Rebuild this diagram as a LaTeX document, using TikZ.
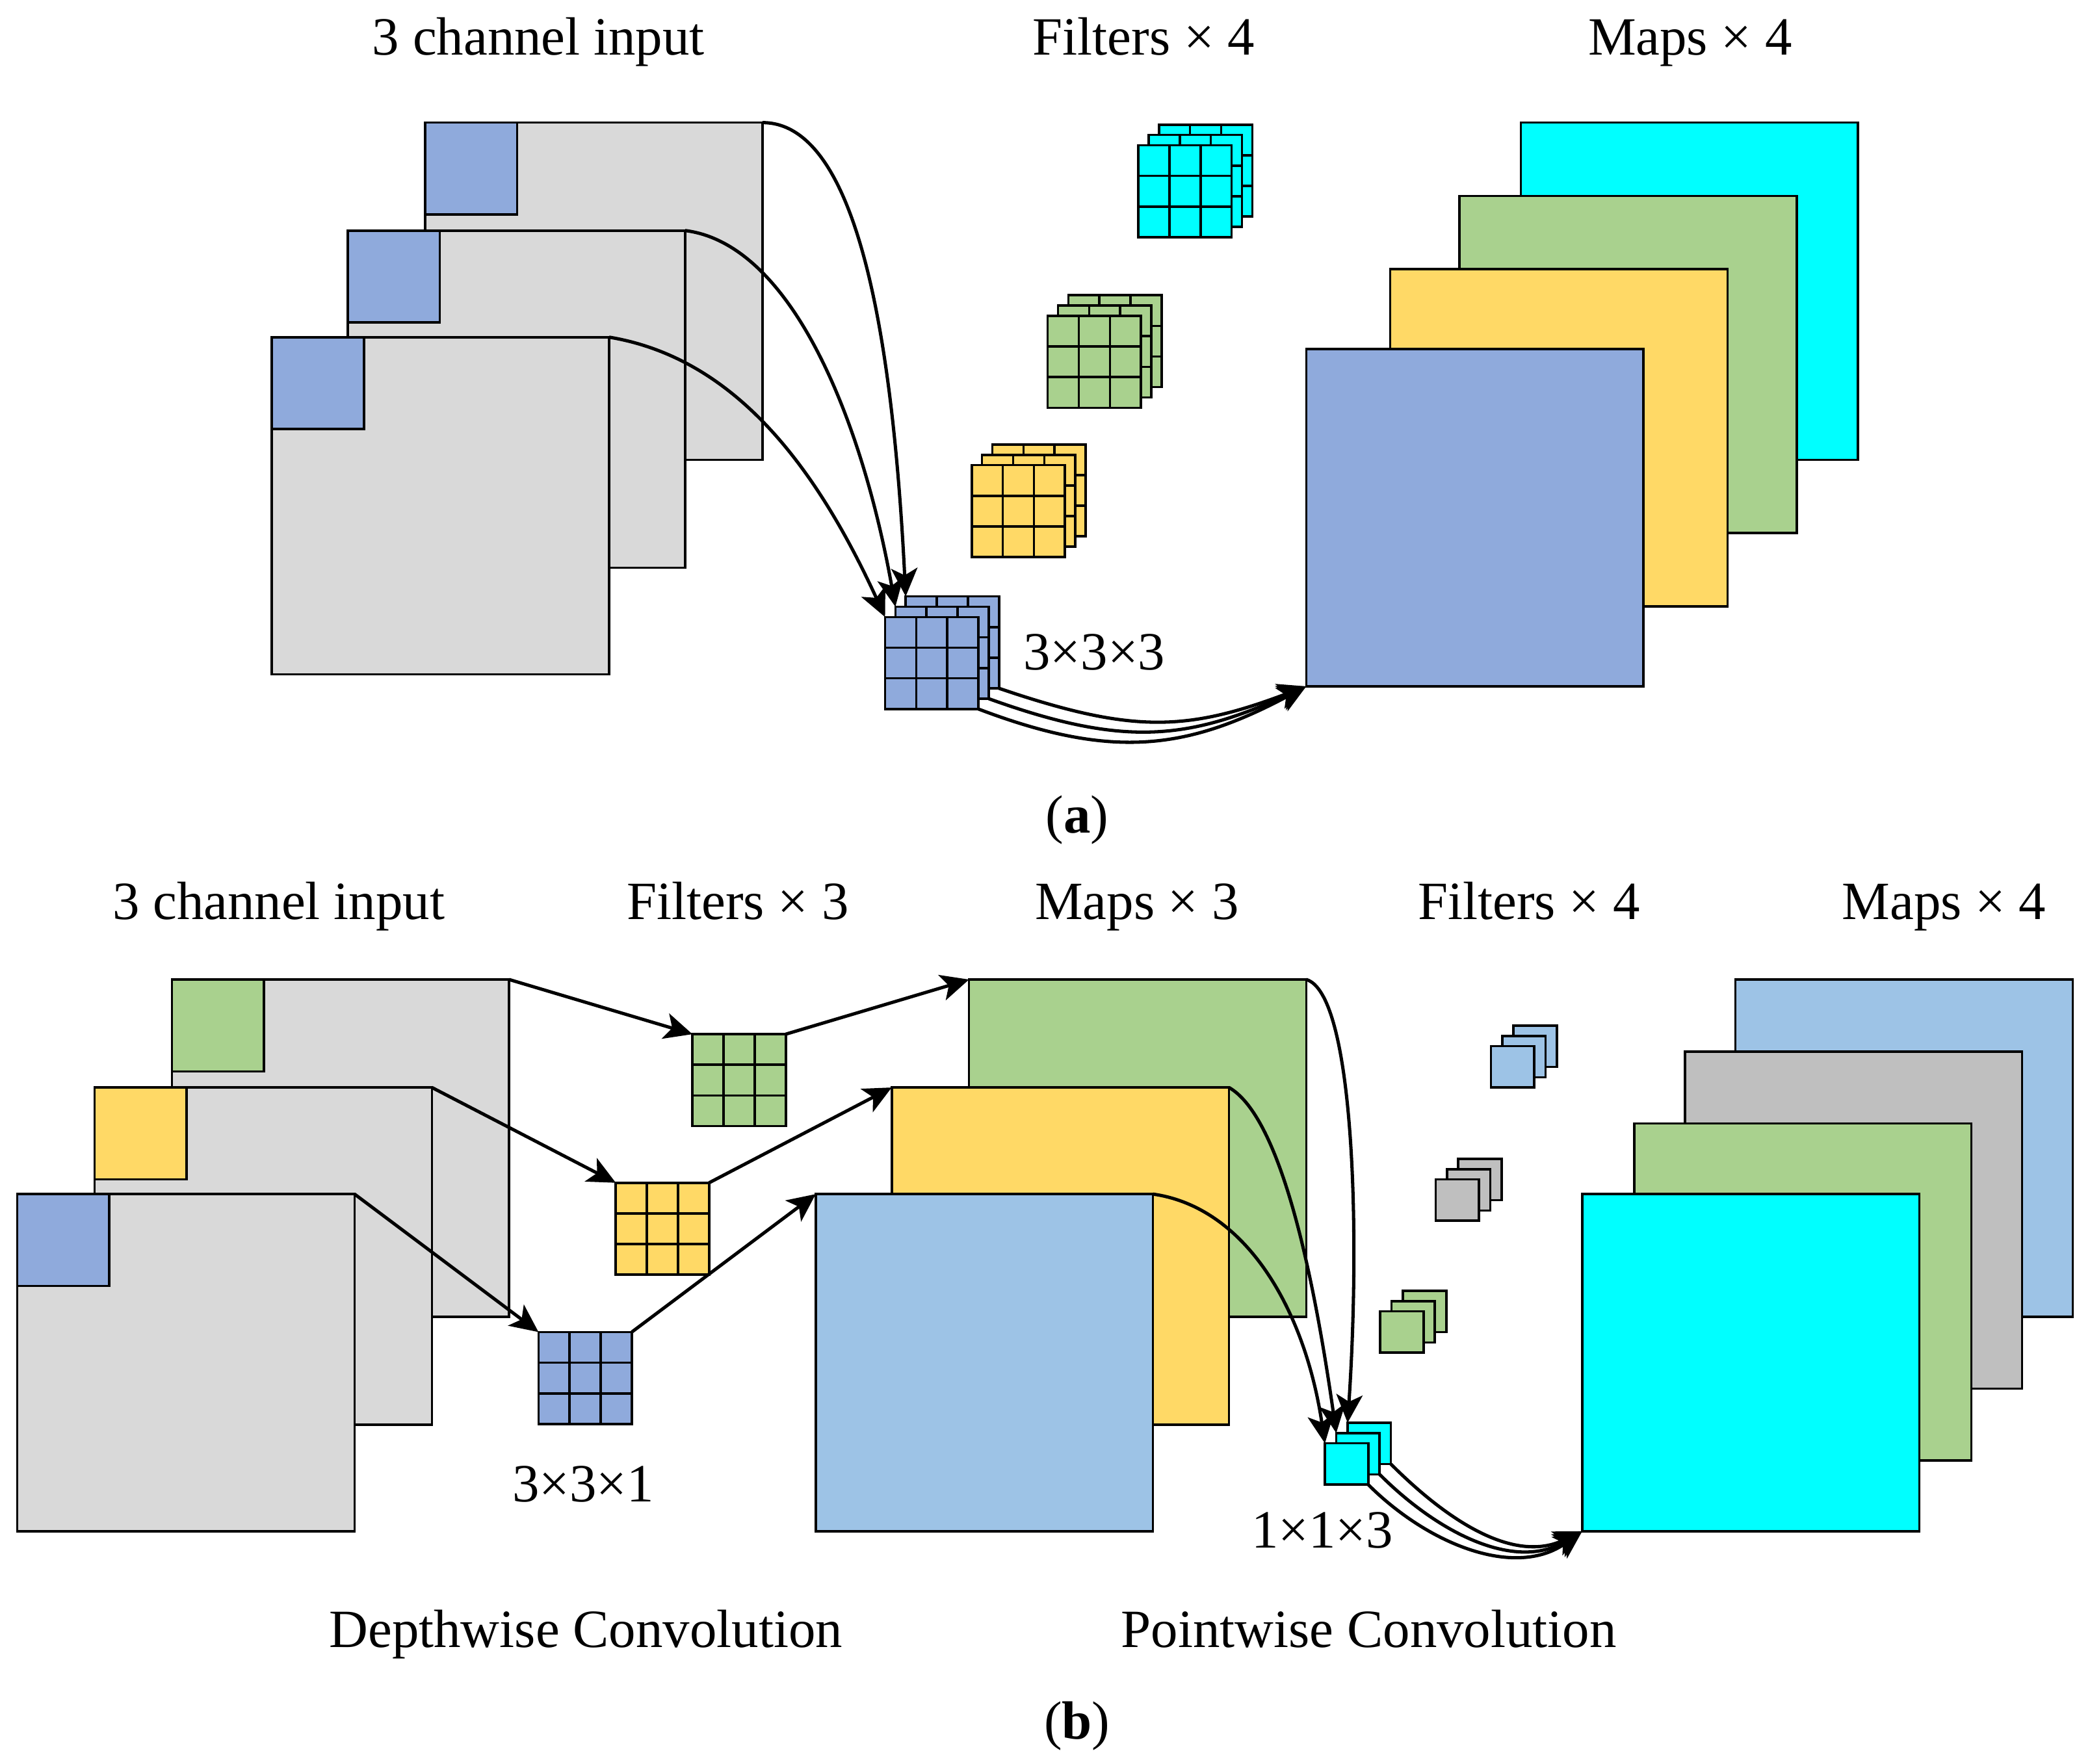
\documentclass[tikz,border=0pt]{standalone}
\usepackage{fontspec}
\setmainfont{Liberation Serif}
\usetikzlibrary{calc}
\usetikzlibrary{arrows.meta}

\definecolor{grayin}{HTML}{D9D9D9}
\definecolor{blueC}{HTML}{8FAADC}
\definecolor{greenC}{HTML}{A9D18E}
\definecolor{yellowC}{HTML}{FFD966}
\definecolor{cyanC}{HTML}{00FFFF}
\definecolor{skyC}{HTML}{9DC3E6}
\definecolor{grayC}{HTML}{BFBFBF}

\tikzset{
  sheet/.style={draw, fill=#1, line width=0.5pt, anchor=north west, inner sep=0pt, outer sep=0pt, minimum size=2.53cm},
  patch/.style={sheet=#1, minimum size=0.69cm},
  onebox/.style={sheet=#1, minimum width=0.325cm, minimum height=0.31cm},
  kernel/.style={sheet=#1, minimum width=0.70cm, minimum height=0.69cm,
    path picture={
      \foreach \t in {1,2}{
        \draw[line width=0.5pt] ($(path picture bounding box.north west)!\t/3!(path picture bounding box.north east)$) -- ($(path picture bounding box.south west)!\t/3!(path picture bounding box.south east)$)
          ($(path picture bounding box.north west)!\t/3!(path picture bounding box.south west)$) -- ($(path picture bounding box.north east)!\t/3!(path picture bounding box.south east)$);
      }}},
  lbl/.style={anchor=base, inner sep=0pt, font=\fontsize{11.5}{13}\selectfont},
  arr/.style={-{Stealth[length=6pt,width=5.6pt,inset=1.5pt]}, line width=0.7pt}
}

\begin{document}
\begin{tikzpicture}
\useasboundingbox (0,0) rectangle (15.68,-13.232);

% (a) standard convolution
\node[lbl] (tInA) at (4.04,-0.41) {3 channel input};
\node[lbl] (tFiltA) at (8.58,-0.41) {Filters × 4};
\node[lbl] (tMapA) at (12.68,-0.41) {Maps × 4};

\node[sheet=grayin] (inA1) at (3.19,-0.92) {};
\node[patch=blueC] (pA1) at (3.19,-0.92) {};
\node[sheet=grayin] (inA2) at (2.61,-1.73) {};
\node[patch=blueC] (pA2) at (2.61,-1.73) {};
\node[sheet=grayin] (inA3) at (2.04,-2.53) {};
\node[patch=blueC] (pA3) at (2.04,-2.53) {};

\foreach \i/\d in {1/0.155,2/0.0775,3/0}{
  \node[kernel=cyanC] (kC\i) at (8.54+\d,-1.09+\d) {};
  \node[kernel=greenC] (kG\i) at (7.86+\d,-2.37+\d) {};
  \node[kernel=yellowC] (kY\i) at (7.29+\d,-3.49+\d) {};
  \node[kernel=blueC] (kB\i) at (6.64+\d,-4.63+\d) {};
}
\node[lbl] (sizeA) at (8.21,-5.025) {3×3×3};

\node[sheet=cyanC] (mA1) at (11.41,-0.92) {};
\node[sheet=greenC] (mA2) at (10.95,-1.47) {};
\node[sheet=yellowC] (mA3) at (10.43,-2.02) {};
\node[sheet=blueC] (mA4) at (9.80,-2.62) {};

\draw[arr] (inA1.north east) .. controls +(0.7,0) and +(-0.1,2.0) .. (kB1.north west);
\draw[arr] (inA2.north east) .. controls +(0.8,-0.1) and +(-0.25,1.4) .. (kB2.north west);
\draw[arr] (inA3.north east) .. controls +(0.9,-0.15) and +(-0.55,1.2) .. (kB3.north west);
\draw[arr] (kB3.south east) .. controls +(1.0,-0.38) and +(-0.9,-0.48) .. (mA4.south west);
\draw[arr] (kB2.south east) .. controls +(1.0,-0.36) and +(-0.9,-0.41) .. (mA4.south west);
\draw[arr] (kB1.south east) .. controls +(1.0,-0.34) and +(-0.9,-0.34) .. (mA4.south west);

\node[lbl] (capA) at (8.08,-6.25) {({\bfseries a})};

% (b) depthwise separable convolution
\node[lbl] (tInB) at (2.09,-6.90) {3 channel input};
\node[lbl] (tDwB) at (5.535,-6.90) {Filters × 3};
\node[lbl] (tMid) at (8.53,-6.90) {Maps × 3};
\node[lbl] (tPwB) at (11.47,-6.90) {Filters × 4};
\node[lbl] (tMapB) at (14.585,-6.90) {Maps × 4};

\node[sheet=grayin] (inB1) at (1.29,-7.35) {};
\node[patch=greenC] (pB1) at (1.29,-7.35) {};
\node[sheet=grayin] (inB2) at (0.71,-8.16) {};
\node[patch=yellowC] (pB2) at (0.71,-8.16) {};
\node[sheet=grayin] (inB3) at (0.13,-8.96) {};
\node[patch=blueC] (pB3) at (0.13,-8.96) {};

\node[kernel=greenC] (dG) at (5.195,-7.76) {};
\node[kernel=yellowC] (dY) at (4.62,-8.875) {};
\node[kernel=blueC] (dB) at (4.04,-9.995) {};
\node[lbl] (sizeDw) at (4.375,-11.27) {3×3×1};

\node[sheet=greenC] (mB1) at (7.27,-7.35) {};
\node[sheet=yellowC] (mB2) at (6.69,-8.16) {};
\node[sheet=skyC] (mB3) at (6.12,-8.96) {};

\draw[arr] (inB1.north east) -- (dG.north west);
\draw[arr] (inB2.north east) -- (dY.north west);
\draw[arr] (inB3.north east) -- (dB.north west);
\draw[arr] (dG.north east) -- (mB1.north west);
\draw[arr] (dY.north east) -- (mB2.north west);
\draw[arr] (dB.north east) -- (mB3.north west);

\foreach \i/\d in {1/2,2/1,3/0}{
  \node[onebox=skyC] (qS\i) at (11.185+0.085*\d,-7.85+0.077*\d) {};
  \node[onebox=grayC] (qR\i) at (10.77+0.085*\d,-8.85+0.077*\d) {};
  \node[onebox=greenC] (qG\i) at (10.355+0.085*\d,-9.84+0.077*\d) {};
  \node[onebox=cyanC] (qC\i) at (9.94+0.085*\d,-10.83+0.077*\d) {};
}
\node[lbl] (sizePw) at (9.92,-11.615) {1×1×3};

\node[sheet=skyC] (mB4) at (13.02,-7.35) {};
\node[sheet=grayC] (mB5) at (12.64,-7.89) {};
\node[sheet=greenC] (mB6) at (12.26,-8.43) {};
\node[sheet=cyanC] (mB7) at (11.87,-8.96) {};

\draw[arr] (mB1.north east) .. controls +(0.35,-0.1) and +(0.1,1.5) .. (qC1.north west);
\draw[arr] (mB2.north east) .. controls +(0.35,-0.2) and +(-0.2,1.4) .. (qC2.north west);
\draw[arr] (mB3.north east) .. controls +(0.7,-0.1) and +(-0.15,1.0) .. (qC3.north west);
\draw[arr] (qC3.south east) .. controls +(0.45,-0.45) and +(-0.5,-0.36) .. (mB7.south west);
\draw[arr] (qC2.south east) .. controls +(0.45,-0.45) and +(-0.5,-0.3) .. (mB7.south west);
\draw[arr] (qC1.south east) .. controls +(0.45,-0.45) and +(-0.5,-0.24) .. (mB7.south west);

\node[lbl] (capDw) at (4.395,-12.36) {Depthwise Convolution};
\node[lbl] (capPw) at (10.27,-12.36) {Pointwise Convolution};
\node[lbl] (capB) at (8.08,-13.05) {({\bfseries b})};
\end{tikzpicture}
\end{document}
